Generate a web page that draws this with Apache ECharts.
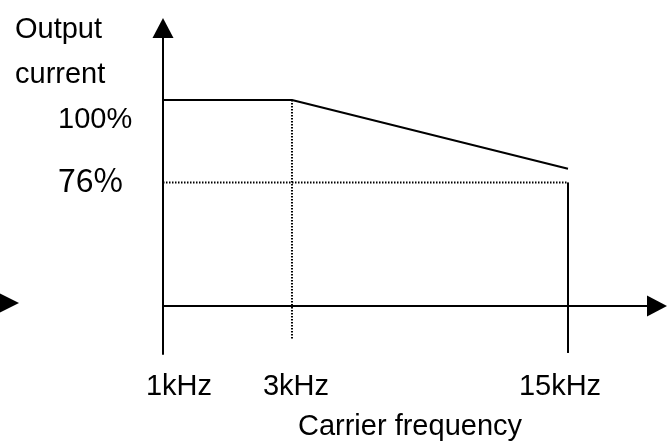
<!DOCTYPE html>
<html>
<head>
<meta charset="utf-8">
<script src="https://cdn.jsdelivr.net/npm/echarts@6/dist/echarts.min.js"></script>
<style>html,body{margin:0;padding:0;background:#fff}#c{width:669px;height:441px}</style>
</head>
<body>
<div id="c"></div>
<script>
// Schematic positions along the frequency axis (not to scale in the source)
const freqLabels = ['1kHz', '3kHz', '15kHz'];
const freqPos = [0, 1, 3.14];
// Output current (%) at each point of the derating curve
const currentPct = [100, 100, 80];
// Y tick values and labels
const yTicks = [100, 76];
const yTickLabels = ['100%', '76%'];
const refLevel = 76;
// bottom ends of the guide lines (drawn below the frequency axis)
const guide3kBottom = 30.1;
const guide15kBottom = 26.3;

const FONT = '"Liberation Sans", Arial, sans-serif';
const FS = 29;
const chart = echarts.init(document.getElementById('c'), null, {renderer: 'canvas'});

const curve = freqPos.map((x, i) => [x, currentPct[i]]);
const labelPad = {'1kHz': [0, 0, 0, 32], '3kHz': [0, 0, 0, 8], '15kHz': [0, 16, 0, 0]};

chart.setOption({
  animation: false,
  backgroundColor: '#fff',
  title: {
    text: 'Output\ncurrent',
    left: 10, top: 2,
    textStyle: {fontFamily: FONT, fontSize: FS, fontWeight: 'normal', color: '#000', lineHeight: 45}
  },
  graphic: [{
    type: 'polygon',
    shape: {points: [[-1, 293], [19, 303], [-1, 313]]},
    style: {fill: '#000'}
  }],
  grid: {left: 163, right: 12, top: 28, bottom: 87, containLabel: false, outerBoundsMode: 'none'},
  xAxis: {
    type: 'value', min: 0, max: 3.83,
    offset: -48,
    name: 'Carrier frequency',
    nameLocation: 'middle', nameGap: 106,
    nameTextStyle: {fontFamily: FONT, fontSize: FS, color: '#000'},
    axisLine: {show: true, onZero: false, symbol: ['none', 'triangle'], symbolSize: [21, 20],
      lineStyle: {color: '#000', width: 2}},
    axisTick: {show: false},
    splitLine: {show: false},
    axisLabel: {
      customValues: freqPos,
      margin: 66,
      formatter: v => {
        const i = freqPos.indexOf(v);
        return i < 0 ? '' : '{' + ['a','b','c'][i] + '|' + freqLabels[i] + '}';
      },
      rich: {
        a: {fontFamily: FONT, fontSize: FS, color: '#000', padding: labelPad['1kHz']},
        b: {fontFamily: FONT, fontSize: FS, color: '#000', padding: labelPad['3kHz']},
        c: {fontFamily: FONT, fontSize: FS, color: '#000', padding: labelPad['15kHz']}
      }
    }
  },
  yAxis: {
    type: 'value', min: 26, max: 121,
    axisLine: {show: true, onZero: false, symbol: ['none', 'triangle'], symbolSize: [21, 20],
      lineStyle: {color: '#000', width: 2}},
    axisTick: {show: false},
    splitLine: {show: false},
    axisLabel: {
      customValues: yTicks,
      margin: 105,
      align: 'left',
      formatter: v => {
        const i = yTicks.indexOf(v);
        return i < 0 ? '' : '{' + ['p','q'][i] + '|' + yTickLabels[i] + '}';
      },
      rich: {
        p: {fontFamily: FONT, fontSize: FS, color: '#000', padding: [40, 0, 0, 0]},
        q: {fontFamily: '"Noto Sans CJK JP", sans-serif', fontSize: 32, fontWeight: 'normal', color: '#000', padding: [0, 0, 6, 0]}
      }
    }
  },
  series: [
    {
      type: 'line', data: curve, symbol: 'none', clip: false,
      lineStyle: {color: '#000', width: 2}
    },
    {
      type: 'line', data: [[freqPos[0], refLevel], [freqPos[2], refLevel]], symbol: 'none',
      lineStyle: {color: '#000', width: 2, type: [1.5, 1.5]}
    },
    {
      type: 'line', data: [[freqPos[1], currentPct[1]], [freqPos[1], guide3kBottom]], symbol: 'none',
      lineStyle: {color: '#000', width: 2, type: [1.5, 1.5]}
    },
    {
      type: 'line', data: [[freqPos[2], refLevel], [freqPos[2], guide15kBottom]], symbol: 'none',
      lineStyle: {color: '#000', width: 2}
    }
  ]
});
</script>
</body>
</html>
